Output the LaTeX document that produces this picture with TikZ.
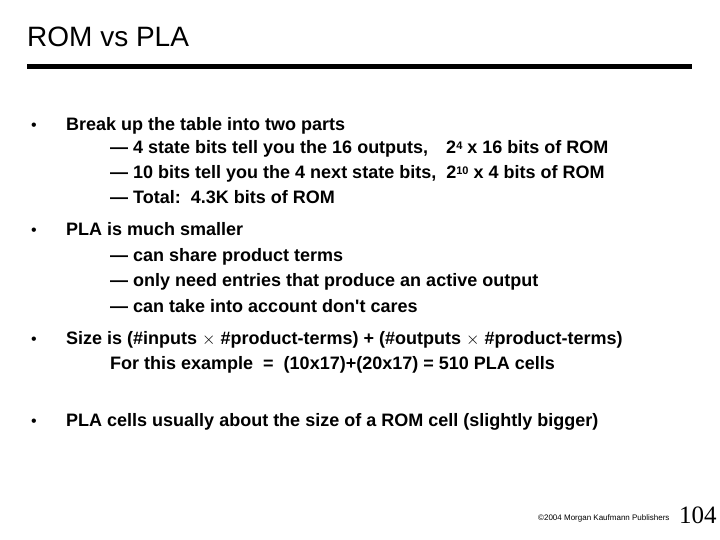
\documentclass[tikz,border=0pt]{standalone}
\usepackage{fontspec}
\setmainfont[Ligatures=NoCommon]{Liberation Sans}
\newfontfamily\serifnum{Liberation Serif}
\begin{document}
\begin{tikzpicture}[x=1pt,y=-1pt,
  txt/.style={anchor=base west,inner sep=0pt,font=\fontsize{18}{20}\selectfont\bfseries},
  bul/.style={anchor=base west,inner sep=0pt,font=\fontsize{16}{18}\selectfont}]
\useasboundingbox (0,0) rectangle (720,540);
\node[anchor=base west,inner sep=0pt,font=\fontsize{28}{30}\selectfont] (title) at (27,47) {ROM vs PLA};
\fill (27,64) rectangle (692,69);
\node[bul] (b1) at (31,131) {•};
\node[txt] (l1) at (66,131) {Break up the table into two parts};
\node[txt] (l2) at (110,154) {— 4 state bits tell you the 16 outputs,\quad 2\raisebox{0.5ex}{\fontsize{11}{11}\selectfont 4} x 16 bits of ROM};
\node[txt] (l3) at (110,179) {— 10 bits tell you the 4 next state bits,\ \ 2\raisebox{0.5ex}{\fontsize{11}{11}\selectfont 10} x 4 bits of ROM};
\node[txt] (l4) at (110,204) {— Total:\ \ 4.3K bits of ROM};
\node[bul] (b2) at (31,236) {•};
\node[txt] (l5) at (66,236) {PLA is much smaller};
\node[txt] (l6) at (110,261) {— can share product terms};
\node[txt] (l7) at (110,286) {— only need entries that produce an active output};
\node[txt] (l8) at (110,312) {— can take into account don\textquotesingle t cares};
\node[bul] (b3) at (31,344) {•};
\node[txt] (l9) at (66,344) {Size is (\#inputs $\times$ \#product-terms) + (\#outputs $\times$ \#product-terms)};
\node[txt] (l10) at (110,369) {For this example\ \ =\ \ (10x17)+(20x17) = 510 PLA cells};
\node[bul] (b4) at (31,426) {•};
\node[txt] (l11) at (66,426) {PLA cells usually about the size of a ROM cell (slightly bigger)};
\node[anchor=base west,inner sep=0pt,font=\fontsize{8}{9}\selectfont] (foot) at (538,520) {©2004 Morgan Kaufmann Publishers};
\node[anchor=base west,inner sep=0pt,font=\serifnum\fontsize{25}{27}\selectfont] (pg) at (679,523) {104};
\end{tikzpicture}
\end{document}
